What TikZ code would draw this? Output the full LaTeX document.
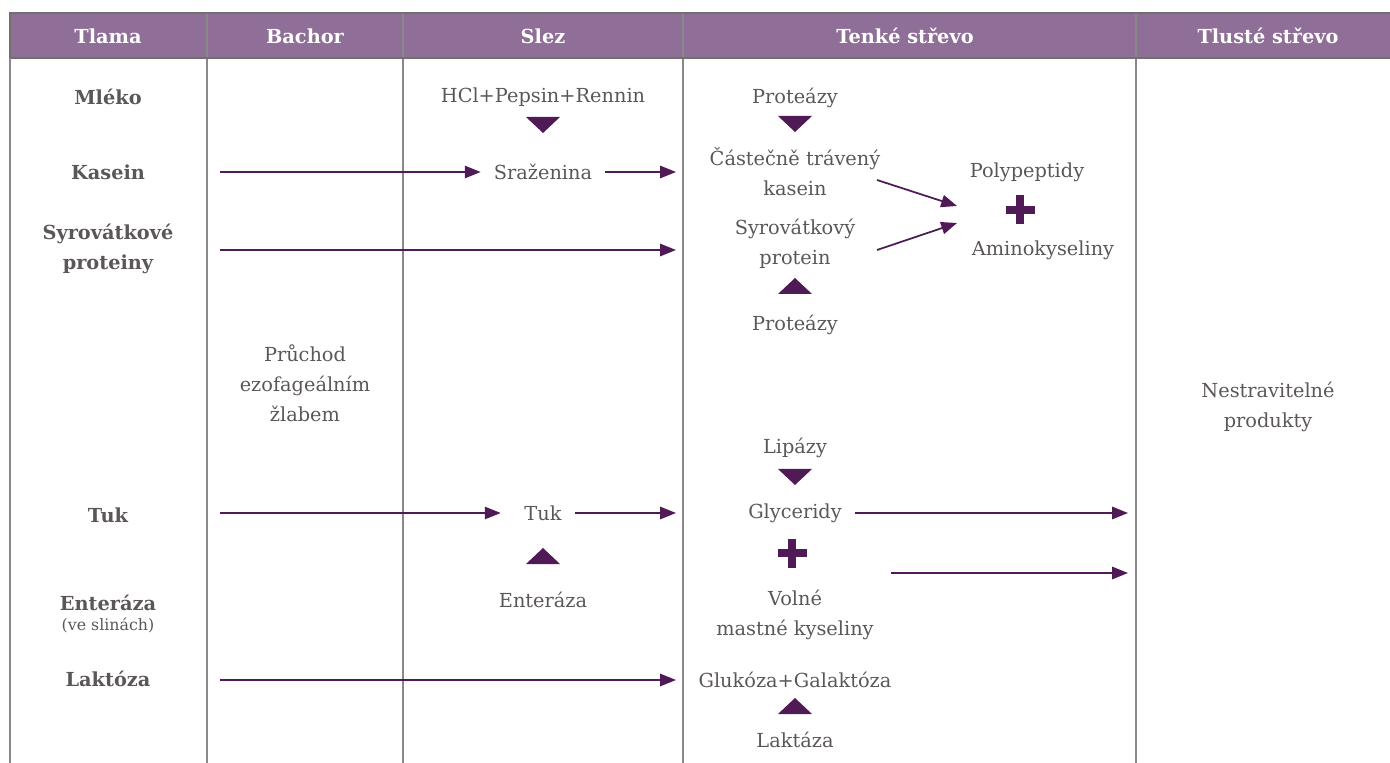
\documentclass[tikz,border=0pt]{standalone}
\usepackage{fontspec}
\setmainfont{DejaVu Serif}
\usepackage{xcolor}
\usetikzlibrary{arrows.meta, calc, positioning}
\definecolor{dighead}{HTML}{8F6E97}
\definecolor{digedge}{HTML}{707070}
\definecolor{diggrid}{HTML}{8A8888}
\definecolor{digtext}{HTML}{5C5757}
\definecolor{digarrow}{HTML}{501A57}
% enzyme triangles and plus marks
\newcommand{\enzdown}[2]{\fill[digarrow] (#1-17,#2-8) -- (#1+17,#2-8) -- (#1,#2+8) -- cycle;}
\newcommand{\enzup}[2]{\fill[digarrow] (#1-17,#2+8) -- (#1+17,#2+8) -- (#1,#2-8) -- cycle;}
\newcommand{\plusmark}[2]{\fill[digarrow] (#1-14.5,#2-4) rectangle (#1+14.5,#2+4);
  \fill[digarrow] (#1-4,#2-14.5) rectangle (#1+4,#2+14.5);}

\begin{document}
\begin{tikzpicture}[x=0.02cm, y=-0.02cm,
    every node/.style={font=\fontsize{11}{17}\selectfont, text=digtext, align=center},
    head/.style={font=\bfseries\fontsize{11}{13}\selectfont, text=white},
    rowlab/.style={font=\bfseries\fontsize{11}{17}\selectfont},
    flow/.style={draw=digarrow, line width=1pt, -{Triangle[length=9pt,width=7pt]}},
    sep/.style={draw=diggrid, line width=0.8pt}]
    \useasboundingbox (0,0) rectangle (1390,763);

    % header band and columns
    \fill[dighead] (10,13) rectangle (1390,58);
    \foreach \cx in {207, 403, 683, 1136}{
        \draw[sep] (\cx,13) -- (\cx,763);
    }
    \draw[digedge, line width=0.9pt] (1390,13) -- (10,13) -- (10,58) -- (1390,58);
    \draw[sep] (10,58) -- (10,763);
    \foreach \cx/\nm/\txt in {108/hTlama/Tlama, 305/hBachor/Bachor, 543/hSlez/Slez,
        905/hTenke/Tenké střevo, 1268/hTluste/Tlusté střevo}{
        \node[head] (\nm) at (\cx,36) {\txt};
    }

    % Tlama
    \node[rowlab] (mleko) at (108,97) {Mléko};
    \node[rowlab] (kaseinT) at (108,172) {Kasein};
    \node[rowlab] (syrovT) at (108,249) {Syrovátkové\\proteiny};
    \node[rowlab] (tukT) at (108,515) {Tuk};
    \node[rowlab] (enterT) at (108,614) {Enteráza\\[-6pt]{\mdseries\fontsize{9}{11}\selectfont (ve slinách)}};
    \node[rowlab] (laktozaT) at (108,679) {Laktóza};

    % Bachor
    \node (pruchod) at (305,383) {Průchod\\ezofageálním\\žlabem};

    % Slez
    \node (hcl) at (543,97) {HCl+Pepsin+Rennin};
    \enzdown{543}{125}
    \node (sraz) at (543,172) {Sraženina};
    \node (tukS) at (543,513) {Tuk};
    \enzup{543}{556}
    \node (enterS) at (543,600) {Enteráza};

    % Tenke strevo
    \node (proteazyA) at (795,98) {Proteázy};
    \enzdown{795}{124}
    \node (castecne) at (795,172) {Částečně trávený\\kasein};
    \node (syrovS) at (795,244) {Syrovátkový\\protein};
    \enzup{795}{286}
    \node (proteazyB) at (795,325) {Proteázy};
    \node (polypep) at (1027,172) {Polypeptidy};
    \plusmark{1020}{210}
    \node (amino) at (1043,250) {Aminokyseliny};
    \node (lipazy) at (795,448) {Lipázy};
    \enzdown{795}{477}
    \node (glyc) at (795,513) {Glyceridy};
    \plusmark{792}{553}
    \node (volne) at (795,615) {Volné\\mastné kyseliny};
    \node (glukoza) at (795,680) {Glukóza+Galaktóza};
    \enzup{795}{706}
    \node (laktaza) at (795,740) {Laktáza};

    % Tluste strevo
    \node (nestrav) at (1268,407) {Nestravitelné\\produkty};

    % free ends of the flows
    \coordinate (k0) at (220,172);
    \coordinate (k1) at (676,172);
    \coordinate (s0) at (220,250);
    \coordinate (s1) at (676,250);
    \coordinate (t0) at (220,513);
    \coordinate (t1) at (676,513);
    \coordinate (t2) at (1128,513);
    \coordinate (v0) at (891,573);
    \coordinate (v1) at (1128,573);
    \coordinate (l0) at (220,680);
    \coordinate (l1) at (676,680);
    \coordinate (c0) at (877,180);
    \coordinate (c1) at (957,206);
    \coordinate (w0) at (877,250);
    \coordinate (w1) at (957,223);

    \draw[flow, shorten >=4pt] (k0) -- (sraz.west);
    \draw[flow, shorten <=4pt] (sraz.east) -- (k1);
    \draw[flow] (s0) -- (s1);
    \draw[flow, shorten >=10pt] (t0) -- (tukS.west);
    \draw[flow, shorten <=4pt] (tukS.east) -- (t1);
    \draw[flow, shorten <=4pt] (glyc.east) -- (t2);
    \draw[flow] (v0) -- (v1);
    \draw[flow] (l0) -- (l1);
    \draw[flow] (c0) -- (c1);
    \draw[flow] (w0) -- (w1);
\end{tikzpicture}
\end{document}
